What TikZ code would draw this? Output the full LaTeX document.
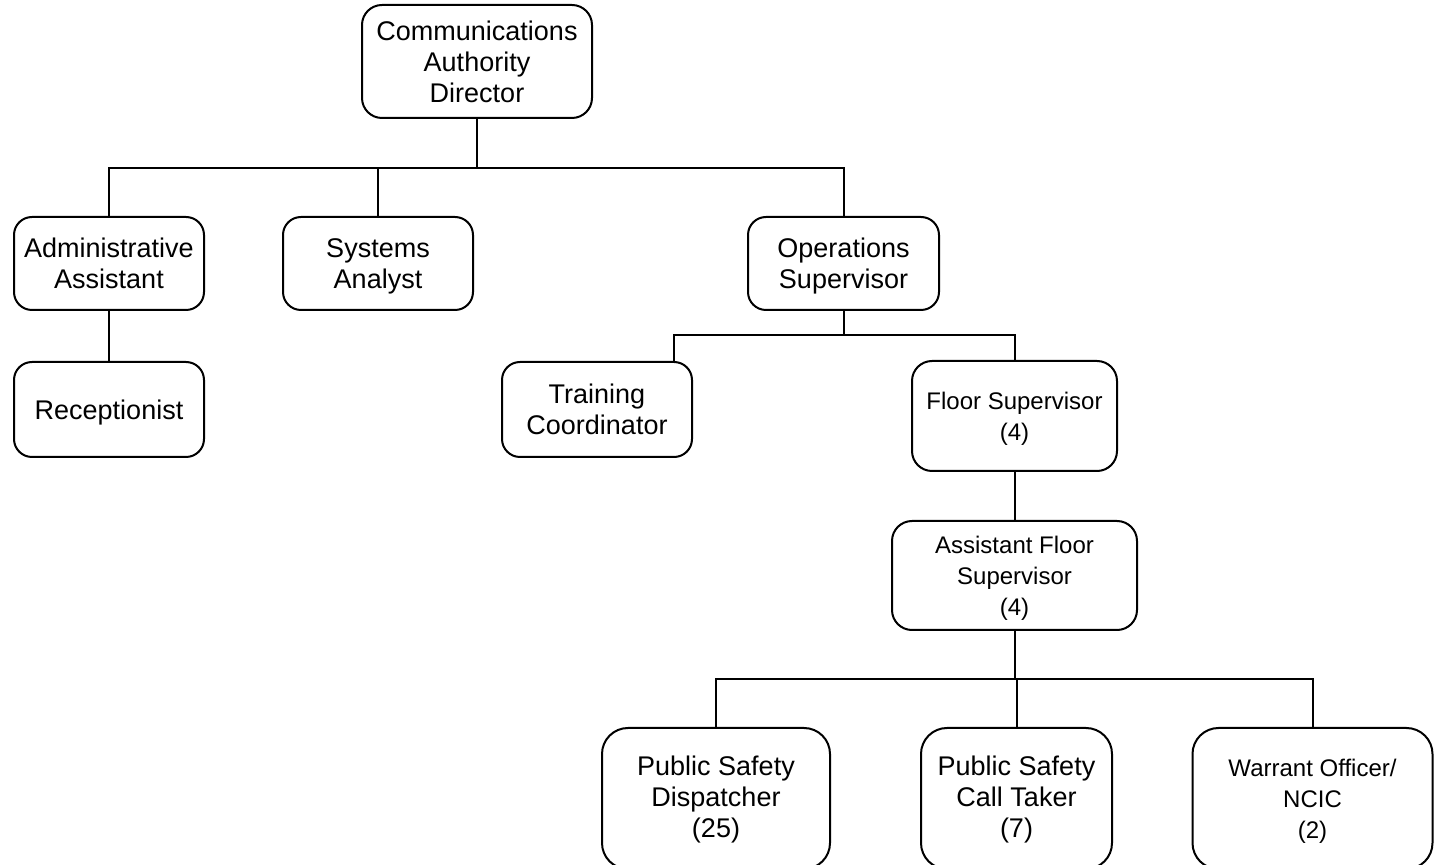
\documentclass[tikz,border=0pt]{standalone}
\usepackage{fontspec}
\setmainfont{Liberation Sans}
\usepackage{tikz}
\usetikzlibrary{positioning,calc}

\begin{document}
\begin{tikzpicture}[
  x=0.5pt,y=-0.5pt,
  post/.style={draw=black,line width=1pt,rounded corners=9pt,fill=white,align=center,
               inner sep=0pt,text depth=-0.5pt,font=\fontsize{13.5}{15.5}\selectfont},
  postsmall/.style={post,font=\fontsize{12}{15.5}\selectfont},
  link/.style={line width=1pt,draw=black}
]
  \useasboundingbox (0,0) rectangle (1436,865);

  % top level
  \node[post,minimum width=115pt,minimum height=56.5pt,rounded corners=10pt] (director) at (477,61.5)
    {Communications\\Authority\\Director};

  % second level
  \node[post,minimum width=95pt,minimum height=46.5pt] (admin) at (109,263.5) {Administrative\\Assistant};
  \node[post,minimum width=95pt,minimum height=46.5pt] (analyst) at (378,263.5) {Systems\\Analyst};
  \node[post,minimum width=95.5pt,minimum height=46.5pt] (ops) at (843.5,263.5) {Operations\\Supervisor};

  % third level
  \node[post,minimum width=95pt,minimum height=47.5pt] (recept) at (109,409.5) {Receptionist};
  \node[post,minimum width=95pt,minimum height=47.5pt] (training) at (597,409.5) {Training\\Coordinator};
  \node[postsmall,minimum width=102.5pt,minimum height=55pt,rounded corners=10pt,text depth=-2.25pt]
    (floor) at (1014.5,416) {Floor Supervisor\\(4)};
  \node[postsmall,minimum width=122.5pt,minimum height=54.5pt,rounded corners=10pt,text depth=0pt]
    (asst) at (1014.5,575.5) {Assistant Floor\\Supervisor\\(4)};

  % call floor staff, boxes run off the bottom edge
  \node[post,minimum width=114pt,minimum height=70.5pt,rounded corners=13pt,text depth=2pt]
    (dispatch) at (716,798.5) {Public Safety\\Dispatcher\\(25)};
  \node[post,minimum width=95.5pt,minimum height=70.5pt,rounded corners=13pt,text depth=2pt]
    (taker) at (1016.5,798.5) {Public Safety\\Call Taker\\(7)};
  \node[postsmall,minimum width=120pt,minimum height=70.5pt,rounded corners=13pt,text depth=-0.5pt]
    (warrant) at (1312.5,798.5) {Warrant Officer/\\NCIC\\(2)};

  % branch bars
  \coordinate (bar1) at (477,168);
  \coordinate (bar2) at (674,335);
  \coordinate (bar3) at (1014.5,679);

  \draw[link] (director.south) -- (bar1);
  \draw[link] (admin.north) -- (admin.north |- bar1) -- (ops.north |- bar1) -- (ops.north);
  \draw[link] (analyst.north) -- (analyst.north |- bar1);
  \draw[link] (admin) -- (recept);

  \draw[link] (ops.south) -- (ops.south |- bar2);
  \draw[link] (training.north -| bar2) -- (bar2) -- (bar2 -| floor.north) -- (floor.north);
  \draw[link] (floor) -- (asst);

  \draw[link] (asst.south) -- (bar3);
  \draw[link] (dispatch.north) -- (dispatch.north |- bar3) -- (warrant.north |- bar3) -- (warrant.north);
  \draw[link] (taker.north) -- (taker.north |- bar3);
\end{tikzpicture}
\end{document}
